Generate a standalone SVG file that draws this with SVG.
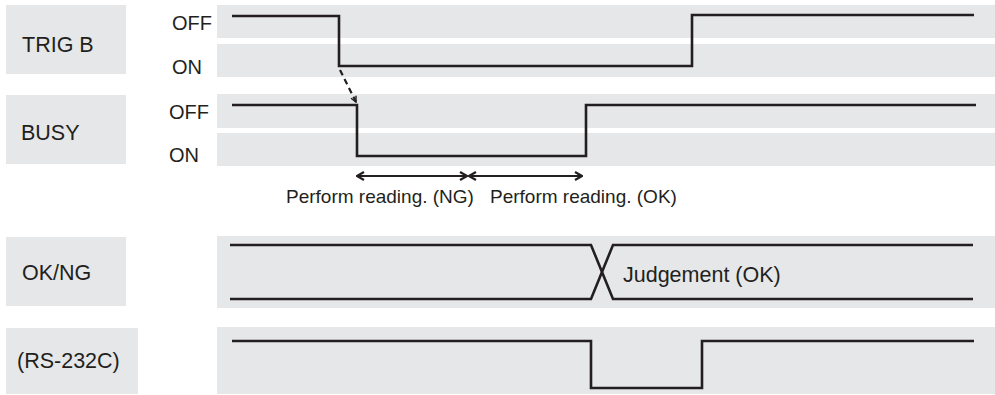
<svg xmlns="http://www.w3.org/2000/svg" width="995" height="395" viewBox="0 0 995 395">
<style>
.box{fill:#e6e7e8}
.lbl{font-family:"Liberation Sans",Arial,sans-serif;font-size:21.5px;fill:#231f20}
.st{font-family:"Liberation Sans",Arial,sans-serif;font-size:20px;fill:#231f20}
.rd{font-family:"Liberation Sans",Arial,sans-serif;font-size:19px;fill:#231f20}
.sig{fill:none;stroke:#231f20;stroke-width:2.6;stroke-linejoin:miter}
.arr{fill:none;stroke:#231f20;stroke-width:2.2}
</style>
<defs>
<marker id="ah" viewBox="0 0 10 10" refX="9" refY="5" markerWidth="10" markerHeight="10" markerUnits="userSpaceOnUse" orient="auto-start-reverse">
<path d="M2,1 L9,5 L2,9" fill="none" stroke="#231f20" stroke-width="2.2"/>
</marker>
<marker id="ahs" viewBox="0 0 10 10" refX="9" refY="5" markerWidth="8" markerHeight="8" markerUnits="userSpaceOnUse" orient="auto">
<path d="M2,1.5 L9,5 L2,8.5" fill="none" stroke="#231f20" stroke-width="1.8"/>
</marker>
</defs>
<rect width="995" height="395" fill="#ffffff"/>
<g id="trigb">
<rect class="box" x="6" y="5" width="120" height="69"/>
<text class="lbl" x="22" y="52">TRIG B</text>
<rect class="box" x="217" y="5" width="778" height="33"/>
<rect class="box" x="217" y="44" width="778" height="33"/>
<text class="st" x="172" y="30">OFF</text>
<text class="st" x="172" y="74">ON</text>
<polyline class="sig" points="232,16 339,16 339,66 692,66 692,15 974,15"/>
</g>
<g id="busy">
<rect class="box" x="6" y="95" width="120" height="69"/>
<text class="lbl" x="21" y="140">BUSY</text>
<rect class="box" x="217" y="94" width="778" height="34"/>
<rect class="box" x="217" y="133" width="778" height="33"/>
<text class="st" x="169" y="119">OFF</text>
<text class="st" x="169" y="162">ON</text>
<polyline class="sig" points="232,105 357,105 357,156 586,156 586,105 976,105"/>
</g>
<g id="reading">
<text class="rd" x="286" y="203">Perform reading. (NG)</text>
<text class="rd" x="490" y="203">Perform reading. (OK)</text>
</g>
<g id="okng">
<rect class="box" x="6" y="237" width="120" height="69"/>
<text class="lbl" x="22" y="280">OK/NG</text>
<rect class="box" x="217" y="236" width="778" height="72"/>
<polyline class="sig" points="230,245 591,245 613,299 973,299"/>
<polyline class="sig" points="230,299 591,299 613,245 973,245"/>
<text class="lbl" x="623" y="282">Judgement (OK)</text>
</g>
<g id="rs232c">
<rect class="box" x="6" y="328" width="132" height="66"/>
<text class="lbl" x="17" y="368">(RS-232C)</text>
<rect class="box" x="217" y="327" width="778" height="67"/>
<polyline class="sig" points="232,341 591,341 591,388 702,388 702,341 974,341"/>
</g>
<g id="connectors">
<line class="arr" x1="340" y1="70" x2="356" y2="102" stroke-width="2.6" stroke-dasharray="6,4" marker-end="url(#ahs)"/>
<line class="arr" x1="357" y1="176" x2="467" y2="176" marker-start="url(#ah)" marker-end="url(#ah)"/>
<line class="arr" x1="469" y1="176" x2="582" y2="176" marker-start="url(#ah)" marker-end="url(#ah)"/>
</g>
</svg>
